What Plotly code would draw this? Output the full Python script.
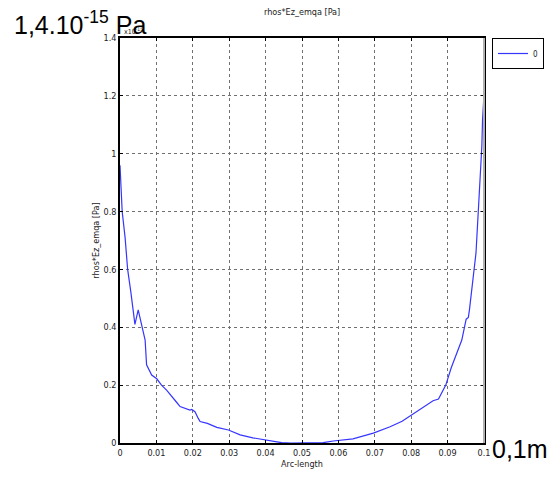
import plotly.graph_objects as go

# Arc-length (m) and rhos*Ez_emqa (x1e-15 Pa)
arc_length = [0, 0.0006, 0.0014, 0.0021, 0.0030, 0.0041, 0.0050, 0.0058, 0.0065, 0.0069,
              0.0073, 0.0087, 0.0101, 0.0114, 0.0128, 0.0142, 0.0156, 0.0165, 0.0183, 0.0192,
              0.0197, 0.0206, 0.0215, 0.0220, 0.0240, 0.0266, 0.0298, 0.0330, 0.0365, 0.0398,
              0.0444, 0.0470, 0.0530, 0.0558, 0.0586, 0.0640, 0.0696, 0.0742, 0.0775, 0.0806,
              0.0835, 0.0860, 0.0875, 0.0884, 0.0895, 0.0910, 0.0925, 0.0939, 0.0951, 0.0957,
              0.0960, 0.0971, 0.0978, 0.0984, 0.0989, 0.0994, 0.0996, 0.1000]
values = [0.96, 0.80, 0.71, 0.60, 0.52, 0.41, 0.46, 0.42, 0.38, 0.356,
          0.27, 0.235, 0.222, 0.200, 0.183, 0.163, 0.140, 0.126, 0.118, 0.114,
          0.116, 0.108, 0.085, 0.074, 0.068, 0.054, 0.045, 0.028, 0.018, 0.010,
          0.001, 0.0, 0.0, 0.001, 0.007, 0.014, 0.034, 0.056, 0.075, 0.100,
          0.125, 0.146, 0.152, 0.172, 0.200, 0.260, 0.310, 0.356, 0.428, 0.434,
          0.460, 0.575, 0.657, 0.794, 0.909, 1.024, 1.117, 1.203]

x_ticks = [0, 0.01, 0.02, 0.03, 0.04, 0.05, 0.06, 0.07, 0.08, 0.09, 0.1]
x_labels = ["0", "0.01", "0.02", "0.03", "0.04", "0.05", "0.06", "0.07", "0.08", "0.09", "0.1"]
y_ticks = [0, 0.2, 0.4, 0.6, 0.8, 1.0, 1.2, 1.4]
y_labels = ["0", "0.2", "0.4", "0.6", "0.8", "1", "1.2", "1.4"]

small_font = "Liberation Sans Narrow, DejaVu Sans Condensed, Arial Narrow, sans-serif"

fig = go.Figure()
fig.add_trace(go.Scatter(x=arc_length, y=values, mode="lines", name="0",
                         line=dict(color="#3535ff", width=1.2)))

axis_common = dict(showline=True, linecolor="black", linewidth=1.5, mirror="ticks",
                   ticks="inside", ticklen=3, tickcolor="black",
                   showgrid=True, gridcolor="#707070", griddash="dot", gridwidth=1,
                   zeroline=False, tickfont=dict(family=small_font, size=9, color="#222"))

fig.update_layout(
    width=556, height=479,
    margin=dict(l=120, r=72, t=38, b=36),
    paper_bgcolor="white", plot_bgcolor="white",
    title=dict(text="rhos*Ez_emqa [Pa]", x=0.5434, xanchor="center", y=0.975, yanchor="middle",
               font=dict(family=small_font, size=9, color="#222")),
    xaxis=dict(range=[0, 0.1], tickvals=x_ticks, ticktext=x_labels,
               title=dict(text="Arc-length", standoff=4,
                          font=dict(family=small_font, size=9, color="#222")),
               **axis_common),
    yaxis=dict(range=[0, 1.4], tickvals=y_ticks, ticktext=y_labels,
               title=dict(text="rhos*Ez_emqa [Pa]", standoff=2,
                          font=dict(family=small_font, size=9, color="#222")),
               **axis_common),
    showlegend=True,
    legend=dict(x=1.022, y=1.0, xanchor="left", yanchor="top",
                bordercolor="black", borderwidth=1, bgcolor="white",
                itemwidth=30, font=dict(family=small_font, size=8, color="#222"),
                tracegroupgap=0),
)

# right frame edge rendered grey in the original
fig.add_shape(type="line", xref="paper", yref="paper", x0=1, x1=1, y0=0, y1=1,
              line=dict(color="#b0b0b0", width=2))

fig.add_annotation(text="x10<sup>-15</sup>", xref="paper", yref="paper",
                   x=0.005, y=1.0, xanchor="left", yanchor="bottom", showarrow=False,
                   font=dict(family=small_font, size=7, color="#222"))
fig.add_annotation(text="1,4.10<sup>-15</sup> Pa", xref="paper", yref="paper",
                   x=-0.2967, y=1.037, xanchor="left", yanchor="middle", showarrow=False,
                   font=dict(family="Liberation Sans, Arial, sans-serif", size=25, color="black"))
fig.add_annotation(text="0,1m", xref="paper", yref="paper",
                   x=1.016, y=-0.015, xanchor="left", yanchor="middle", showarrow=False,
                   font=dict(family="Liberation Sans, Arial, sans-serif", size=25, color="black"))

fig.write_html("out.html")
